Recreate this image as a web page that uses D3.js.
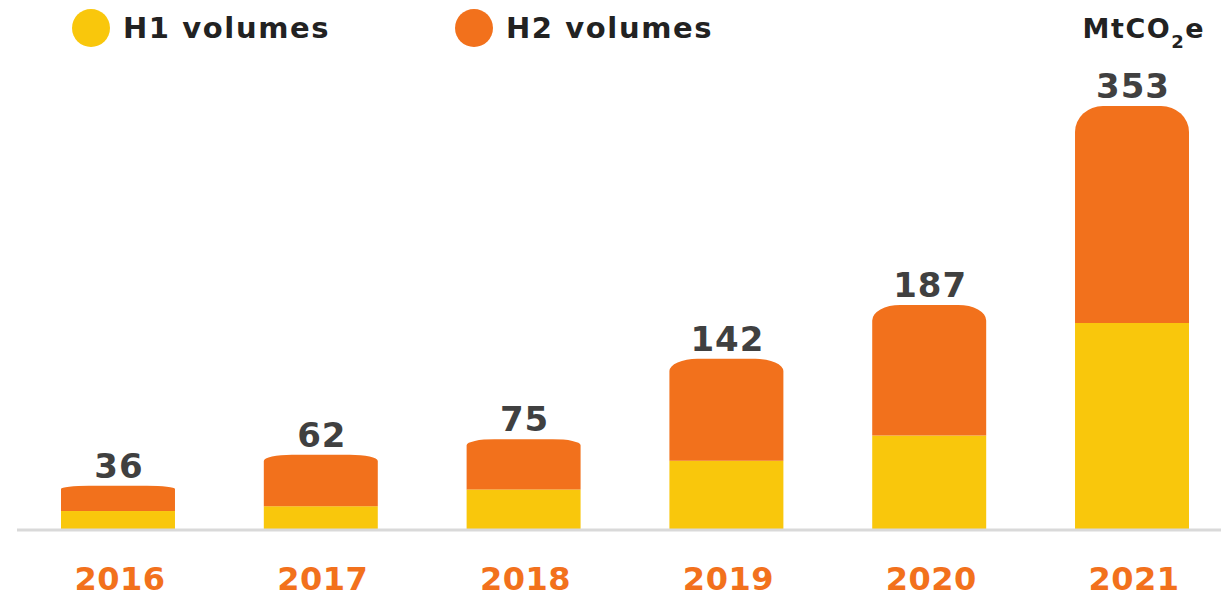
<!DOCTYPE html>
<html>
<head>
<meta charset="utf-8">
<script src="https://cdn.jsdelivr.net/npm/d3@7"></script>
<style>
  body { margin: 0; background: #fff; }
  svg { display: block; font-family: "DejaVu Sans", "Open Sans", sans-serif; }
</style>
</head>
<body>
<div id="chart"></div>
<script>
const years = ["2016", "2017", "2018", "2019", "2020", "2021"];
const h1Values = [15, 19, 33, 57, 78, 172];
const totals = [36, 62, 75, 142, 187, 353];
const h2Values = totals.map((t, i) => t - h1Values[i]);
const seriesNames = ["H1 volumes", "H2 volumes"];
const seriesColors = ["#f9c70c", "#f2711c"];

const width = 1221, height = 598;
const svg = d3.select("#chart").append("svg")
    .attr("width", width)
    .attr("height", height);

const x = d3.scaleBand()
    .domain(years)
    .range([-40.4, 1290.4])
    .paddingInner(0.438)
    .paddingOuter(0.5);

const y = d3.scaleLinear()
    .domain([0, 353])
    .range([529, 106]);

// stacked bars
const rows = years.map((yr, i) => ({ year: yr, h1: h1Values[i], h2: h2Values[i] }));
const stack = d3.stack().keys(["h1", "h2"])(rows);

// rounded top, flat bottom
function topRounded(x0, y0, w, h, rx, ry) {
    return `M${x0},${y0 + h}V${y0 + ry}A${rx},${ry} 0 0 1 ${x0 + rx},${y0}`
        + `H${x0 + w - rx}A${rx},${ry} 0 0 1 ${x0 + w},${y0 + ry}V${y0 + h}Z`;
}

stack.forEach((layer, li) => {
    const g = svg.append("g").attr("fill", seriesColors[li]);
    layer.forEach(d => {
        const x0 = x(d.data.year), bw = x.bandwidth();
        const yTop = y(d[1]), yBot = y(d[0]);
        const h = yBot - yTop;
        if (li === 1) {
            g.append("path").attr("d", topRounded(x0, yTop, bw, h, 28, Math.max(3, h * 0.12)));
        } else {
            g.append("rect")
                .attr("x", x0).attr("y", yTop)
                .attr("width", bw).attr("height", h);
        }
    });
});

// baseline axis
svg.append("line")
    .attr("x1", 17).attr("x2", width)
    .attr("y1", 530).attr("y2", 530)
    .attr("stroke", "#d9d9d9").attr("stroke-width", 3);

// year labels
const xAxis = svg.append("g")
    .attr("transform", "translate(0,530)")
    .call(d3.axisBottom(x).tickSize(0).tickPadding(0));
xAxis.select(".domain").remove();
xAxis.selectAll("text")
    .attr("dy", null)
    .attr("x", 2)
    .attr("y", 60)
    .attr("fill", "#f2711c")
    .attr("font-size", 32)
    .attr("font-weight", 700)
    .attr("letter-spacing", 0.5)
    .attr("font-family", "'DejaVu Sans', sans-serif");

// totals
svg.append("g").selectAll("text")
    .data(years)
    .join("text")
    .attr("x", d => x(d) + x.bandwidth() / 2 + 1)
    .attr("y", (d, i) => y(totals[i]) - 8)
    .attr("text-anchor", "middle")
    .attr("fill", "#404040")
    .attr("font-size", 34)
    .attr("font-weight", 700)
    .attr("letter-spacing", 1)
    .text((d, i) => totals[i]);

// legend
const legendX = [91, 474];
seriesNames.forEach((name, i) => {
    svg.append("circle")
        .attr("cx", legendX[i]).attr("cy", 28).attr("r", 19)
        .attr("fill", seriesColors[i]);
    svg.append("text")
        .attr("x", legendX[i] + 32).attr("y", 38)
        .attr("fill", "#222")
        .attr("font-size", 29)
        .attr("font-weight", 700)
        .attr("letter-spacing", 1.6)
        .text(name);
});

// unit
const unit = svg.append("text")
    .attr("x", 1205).attr("y", 38)
    .attr("text-anchor", "end")
    .attr("fill", "#222")
    .attr("font-size", 27)
    .attr("font-weight", 700)
    .attr("letter-spacing", 1.5);
unit.append("tspan").text("MtCO");
unit.append("tspan").attr("font-size", 18).attr("dy", 10).text("2");
unit.append("tspan").attr("dy", -10).text("e");
</script>
</body>
</html>
